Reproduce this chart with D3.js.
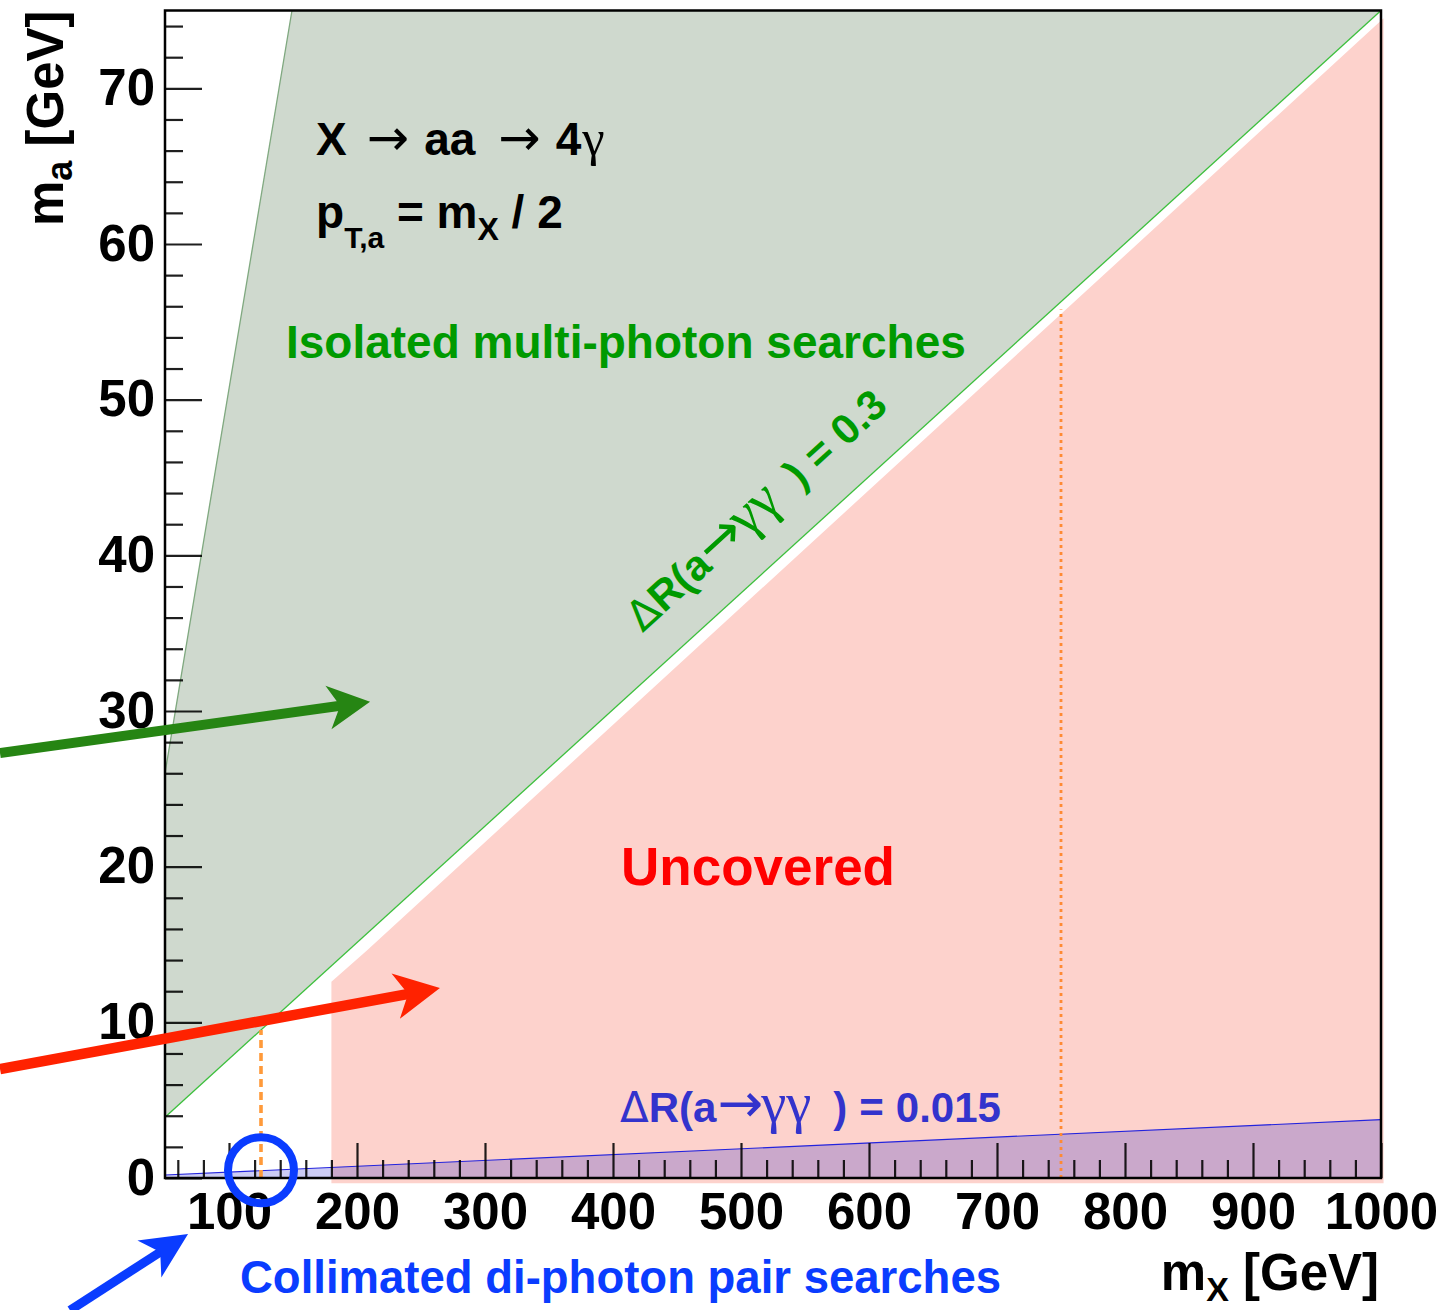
<!DOCTYPE html>
<html>
<head>
<meta charset="utf-8">
<script src="https://cdn.jsdelivr.net/npm/d3@7"></script>
<style>
  html, body { margin: 0; padding: 0; background: #fff; }
  text { font-family: "Liberation Sans", Arial, Helvetica, sans-serif; font-weight: bold; }
</style>
</head>
<body>
<svg id="chart" width="1455" height="1310"></svg>
<script>
// ---- axis setup -------------------------------------------------------
const xDomain = [50, 1000];          // m_X [GeV]
const yDomain = [0, 75];             // m_a [GeV]
const xTickValues = [100, 200, 300, 400, 500, 600, 700, 800, 900, 1000];
const yTickValues = [0, 10, 20, 30, 40, 50, 60, 70];

// ---- regions (m_X, m_a) -----------------------------------------------
const isolatedRegion   = [[50, 26.0], [149.2, 75], [1000, 75], [50, 3.9]];
const uncoveredRegion  = [[180, -0.33], [180, 12.6], [207.5, 14.6], [1002, 74.5], [1002, -0.33]];
const collimatedRegion = [[50, 0], [50, 0.19], [1000, 3.75], [1000, 0]];
const isolatedEdge     = [[50, 26.0], [149.2, 75]];
const dR03Line         = [[50, 3.9], [1000, 75]];
const dR0015Line       = [[50, 0.19], [1000, 3.75]];

// benchmark m_X values marked with vertical orange lines
const benchmarkMX   = [125, 750];
const benchmarkTop  = [9.5, 55.8];
const benchmarkDash = ["8,5", "3,4"];

// arrows pointing at the regions (tail, tip in m_X, m_a)
const arrowTails  = [[-78.9, 27.3], [-78.9, 7.0], [-24.2, -8.5]];
const arrowTips   = [[210.2, 30.6], [264.8, 12.2], [68.0, -3.6]];
const arrowColors = ["#268513", "#ff2200", "#0a3cff"];

// ---- scales -------------------------------------------------------------
const x = d3.scaleLinear().domain(xDomain).range([165, 1381]);
const y = d3.scaleLinear().domain(yDomain).range([1178, 10.5]);

const svg = d3.select("#chart");
const line = d3.line().x(d => x(d[0])).y(d => y(d[1]));
const poly = pts => line(pts) + "Z";

// ---- filled regions -----------------------------------------------------
svg.append("path").attr("d", poly(isolatedRegion)).attr("fill", "#cfd9ce");
svg.append("path").attr("d", poly(uncoveredRegion)).attr("fill", "#fdd2cc");
svg.append("path").attr("d", poly(collimatedRegion)).attr("fill", "#0000c8").attr("fill-opacity", 0.2);

svg.append("path").attr("d", line(isolatedEdge)).attr("fill", "none")
   .attr("stroke", "#7fa87f").attr("stroke-width", 1.3);
svg.append("path").attr("d", line(dR03Line)).attr("fill", "none")
   .attr("stroke", "#3cbf3c").attr("stroke-width", 1.3);
svg.append("path").attr("d", line(dR0015Line)).attr("fill", "none")
   .attr("stroke", "#2323dd").attr("stroke-width", 1.1);

// ---- benchmark lines ----------------------------------------------------
svg.selectAll("line.bench").data(benchmarkMX).enter().append("line")
   .attr("class", "bench")
   .attr("x1", d => x(d)).attr("x2", d => x(d))
   .attr("y1", y(0)).attr("y2", (d, i) => y(benchmarkTop[i]))
   .attr("stroke", (d, i) => i === 0 ? "#ff9a3a" : "#ff8a33")
   .attr("stroke-width", (d, i) => i === 0 ? 3.6 : 2.8)
   .attr("stroke-dasharray", (d, i) => benchmarkDash[i]);

// ---- axes ---------------------------------------------------------------
const tickFont = "51px";
const xMinor = d3.range(60, 1000, 20).filter(v => v % 100 !== 0);
const yMinor = d3.range(2, 75, 2).filter(v => v % 10 !== 0);

const gxMinor = svg.append("g").attr("transform", `translate(0,${y(0)})`)
  .call(d3.axisBottom(x).tickValues(xMinor).tickSize(-18).tickFormat(""));
const gx = svg.append("g").attr("transform", `translate(0,${y(0)})`)
  .call(d3.axisBottom(x).tickValues(xTickValues).tickSize(-35).tickPadding(15).tickFormat(d3.format("d")));
const gyMinor = svg.append("g").attr("transform", `translate(${x(50)},0)`)
  .call(d3.axisLeft(y).tickValues(yMinor).tickSize(-18).tickFormat(""));
const gy = svg.append("g").attr("transform", `translate(${x(50)},0)`)
  .call(d3.axisLeft(y).tickValues(yTickValues).tickSize(-37).tickPadding(10).tickFormat(d3.format("d")));

[gxMinor, gx, gyMinor, gy].forEach(g => {
  g.select(".domain").remove();
  g.selectAll(".tick line").attr("stroke", "#000").attr("stroke-width", 2.2).attr("stroke-opacity", 0.88);
  g.selectAll(".tick text").attr("font-size", tickFont).attr("fill", "#000")
   .attr("font-family", "Liberation Sans, Arial, sans-serif").attr("font-weight", "bold");
});

// frame
svg.append("rect")
   .attr("x", x(50)).attr("y", y(75))
   .attr("width", x(1000) - x(50)).attr("height", y(0) - y(75))
   .attr("fill", "none").attr("stroke", "#000").attr("stroke-width", 2.5);

// ---- axis titles --------------------------------------------------------
const xt = svg.append("text").attr("x", x(1000) - 2).attr("y", 1290)
  .attr("text-anchor", "end").attr("font-size", 51).attr("fill", "#000");
xt.append("tspan").text("m");
xt.append("tspan").attr("font-size", 34).attr("dy", 11).text("X");
xt.append("tspan").attr("dy", -11).text(" [GeV]");

const yt = svg.append("text").attr("transform", `translate(63,${y(75)}) rotate(-90)`)
  .attr("text-anchor", "end").attr("font-size", 51).attr("fill", "#000");
yt.append("tspan").text("m");
yt.append("tspan").attr("font-size", 36).attr("dy", 9).text("a");
yt.append("tspan").attr("dy", -9).text(" [GeV]");

// ---- mixed-font label helper --------------------------------------------
// segments: [text, kind, dx, sizeScale]; kind "b" = bold sans, "s" = thin symbol, "g" = serif greek
function richText(sel, segments, base) {
  segments.forEach(([t, kind, dx, scale]) => {
    const ts = sel.append("tspan").text(t);
    if (dx) ts.attr("dx", dx);
    if (scale) ts.attr("font-size", base * scale);
    if (kind === "s") ts.attr("font-weight", "normal").attr("font-family", "DejaVu Sans, sans-serif");
    if (kind === "g") ts.attr("font-weight", "normal").attr("font-family", "Liberation Serif, DejaVu Serif, serif");
  });
  return sel;
}

// process annotation
const proc = svg.append("text").attr("x", x(168)).attr("y", y(65.7))
  .attr("font-size", 46).attr("fill", "#000");
richText(proc, [["X", "b"], ["\u2192", "s", 20, 1.1], ["aa", "b", 15], ["\u2192", "s", 23, 1.1],
                ["4", "b", 15], ["\u03b3", "g", 1, 1.1]], 46);

const pt = svg.append("text").attr("x", x(168)).attr("y", y(61.0))
  .attr("font-size", 46).attr("fill", "#000").attr("xml:space", "preserve");
pt.append("tspan").text("p");
pt.append("tspan").attr("font-size", 30).attr("dy", 20).text("T,a");
pt.append("tspan").attr("dy", -20).text(" = m");
pt.append("tspan").attr("font-size", 32).attr("dy", 12).text("X");
pt.append("tspan").attr("dy", -12).text(" / 2");

// region labels
svg.append("text").attr("x", x(144.5)).attr("y", y(52.7))
  .attr("font-size", 46).attr("fill", "#009a00").text("Isolated multi-photon searches");

svg.append("text").attr("x", x(406.3)).attr("y", y(18.8))
  .attr("font-size", 53).attr("fill", "#ff0000").text("Uncovered");

const drSegments = value => [["\u0394", "s"], ["R(a", "b"], ["\u2192", "s", 1, 1.3],
                             ["\u03b3\u03b3", "g", -2, 1.35], [")", "b", 22], ["=", "b", 12], [value, "b", 12]];

const dr015 = svg.append("text").attr("x", x(405.5)).attr("y", y(3.6))
  .attr("font-size", 42).attr("fill", "#3333cc");
richText(dr015, drSegments("0.015"), 42);

const angle = Math.atan2(y(dR03Line[1][1]) - y(dR03Line[0][1]), x(dR03Line[1][0]) - x(dR03Line[0][0])) * 180 / Math.PI;
const dr03 = svg.append("text")
  .attr("transform", `translate(${x(423)},${y(35.0)}) rotate(${angle})`)
  .attr("font-size", 42).attr("fill", "#009a00");
richText(dr03, drSegments("0.3"), 42);

svg.append("text").attr("x", x(108.6)).attr("y", y(-7.39))
  .attr("font-size", 45.5).attr("fill", "#0a3cff").text("Collimated di-photon pair searches");

// ---- arrows -------------------------------------------------------------
function drawArrow(tail, tip, color, width, headLen, headHalf) {
  const x0 = x(tail[0]), y0 = y(tail[1]), x1 = x(tip[0]), y1 = y(tip[1]);
  const len = Math.hypot(x1 - x0, y1 - y0);
  const ux = (x1 - x0) / len, uy = (y1 - y0) / len;
  const nx = -uy, ny = ux;
  const bx = x1 - headLen * ux, by = y1 - headLen * uy;
  const notch = 0.72;
  const mx = x1 - notch * headLen * ux, my = y1 - notch * headLen * uy;
  svg.append("line").attr("x1", x0).attr("y1", y0).attr("x2", mx + 2 * ux).attr("y2", my + 2 * uy)
    .attr("stroke", color).attr("stroke-width", width);
  svg.append("path")
    .attr("d", `M${x1},${y1}L${bx + headHalf * nx},${by + headHalf * ny}L${mx},${my}L${bx - headHalf * nx},${by - headHalf * ny}Z`)
    .attr("fill", color);
}
drawArrow(arrowTails[0], arrowTips[0], arrowColors[0], 10, 42, 22);
drawArrow(arrowTails[1], arrowTips[1], arrowColors[1], 10.5, 45, 23);
drawArrow(arrowTails[2], arrowTips[2], arrowColors[2], 9, 46, 22);

// circle marking the m_X = 125 GeV benchmark near m_a ~ 0
svg.append("circle").attr("cx", x(125)).attr("cy", y(0.5)).attr("r", 33)
  .attr("fill", "none").attr("stroke", "#0a3cff").attr("stroke-width", 8);
</script>
</body>
</html>
